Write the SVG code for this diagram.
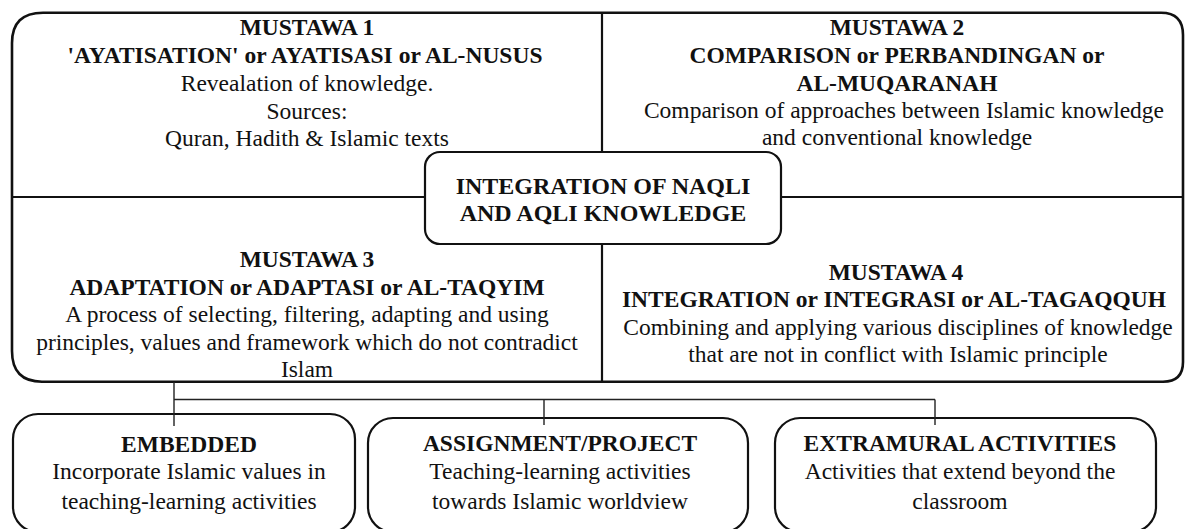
<svg xmlns="http://www.w3.org/2000/svg" width="1186" height="529" viewBox="0 0 1186 529">
<style>
text{font-family:"Liberation Serif","Times New Roman",serif;font-size:23.5px;fill:#111;text-anchor:middle}
.b{font-weight:bold}
.c{font-size:24px}
.frame{fill:none;stroke:#111;stroke-width:2.6}
.div{fill:none;stroke:#111;stroke-width:2.2}
.box{fill:#fff;stroke:#111;stroke-width:2.2}
.conn{fill:none;stroke:#222;stroke-width:1.4}
</style>
<rect width="1186" height="529" fill="#fff"/>
<g id="frame">
<path class="frame" d="M12,43 Q12,12.7 43,12.7 L1161,12.7 Q1183,12.7 1183,35 L1183,362 Q1183,381.7 1163,381.7 L42,381.7 Q12,381.7 12,351 Z"/>
<path class="div" d="M12,197 L1183,197 M602,12.7 L602,381.7"/>
</g>
<g id="mustawa1">
<text class="b" x="307" y="35">MUSTAWA 1</text>
<text class="b" x="305" y="63">'AYATISATION' or AYATISASI or AL-NUSUS</text>
<text x="307" y="91">Revealation of knowledge.</text>
<text x="307" y="118.5">Sources:</text>
<text x="307" y="146">Quran, Hadith &amp; Islamic texts</text>
</g>
<g id="mustawa2">
<text class="b" x="897" y="35">MUSTAWA 2</text>
<text class="b" x="897" y="63">COMPARISON or PERBANDINGAN or</text>
<text class="b" x="897" y="90.5">AL-MUQARANAH</text>
<text x="904" y="117.5">Comparison of approaches between Islamic knowledge</text>
<text x="897" y="145">and conventional knowledge</text>
</g>
<g id="mustawa3">
<text class="b" x="307" y="267">MUSTAWA 3</text>
<text class="b" x="307" y="294.5">ADAPTATION or ADAPTASI or AL-TAQYIM</text>
<text x="307" y="322">A process of selecting, filtering, adapting and using</text>
<text x="307" y="349.5">principles, values and framework which do not contradict</text>
<text x="307" y="377">Islam</text>
</g>
<g id="mustawa4">
<text class="b" x="896" y="279.5">MUSTAWA 4</text>
<text class="b" x="894" y="307">INTEGRATION or INTEGRASI or AL-TAGAQQUH</text>
<text x="898" y="334.5">Combining and applying various disciplines of knowledge</text>
<text x="898" y="362">that are not in conflict with Islamic principle</text>
</g>
<g id="center">
<rect class="box" x="425" y="152" width="356" height="92" rx="15" ry="15" stroke-width="2.6"/>
<text class="b c" x="603" y="194">INTEGRATION OF NAQLI</text>
<text class="b c" x="603" y="221">AND AQLI KNOWLEDGE</text>
</g>
<g id="embedded">
<rect class="box" x="13" y="414" width="342" height="118" rx="25" ry="25"/>
<text class="b" x="189" y="451.5">EMBEDDED</text>
<text x="189" y="478.5">Incorporate Islamic values in</text>
<text x="189" y="508.5">teaching-learning activities</text>
</g>
<g id="assignment">
<rect class="box" x="368" y="418" width="380" height="114" rx="25" ry="25"/>
<text class="b" x="560" y="451">ASSIGNMENT/PROJECT</text>
<text x="560" y="478.5">Teaching-learning activities</text>
<text x="560" y="509">towards Islamic worldview</text>
</g>
<g id="extramural">
<rect class="box" x="775" y="418" width="381" height="114" rx="25" ry="25"/>
<text class="b" x="960" y="451">EXTRAMURAL ACTIVITIES</text>
<text x="960" y="478.5">Activities that extend beyond the</text>
<text x="960" y="509">classroom</text>
</g>
<g id="connectors">
<path class="conn" d="M174,382 L174,426 M174,399.5 L935,399.5 M544,399.5 L544,425 M935,399.5 L935,425"/>
</g>
</svg>
